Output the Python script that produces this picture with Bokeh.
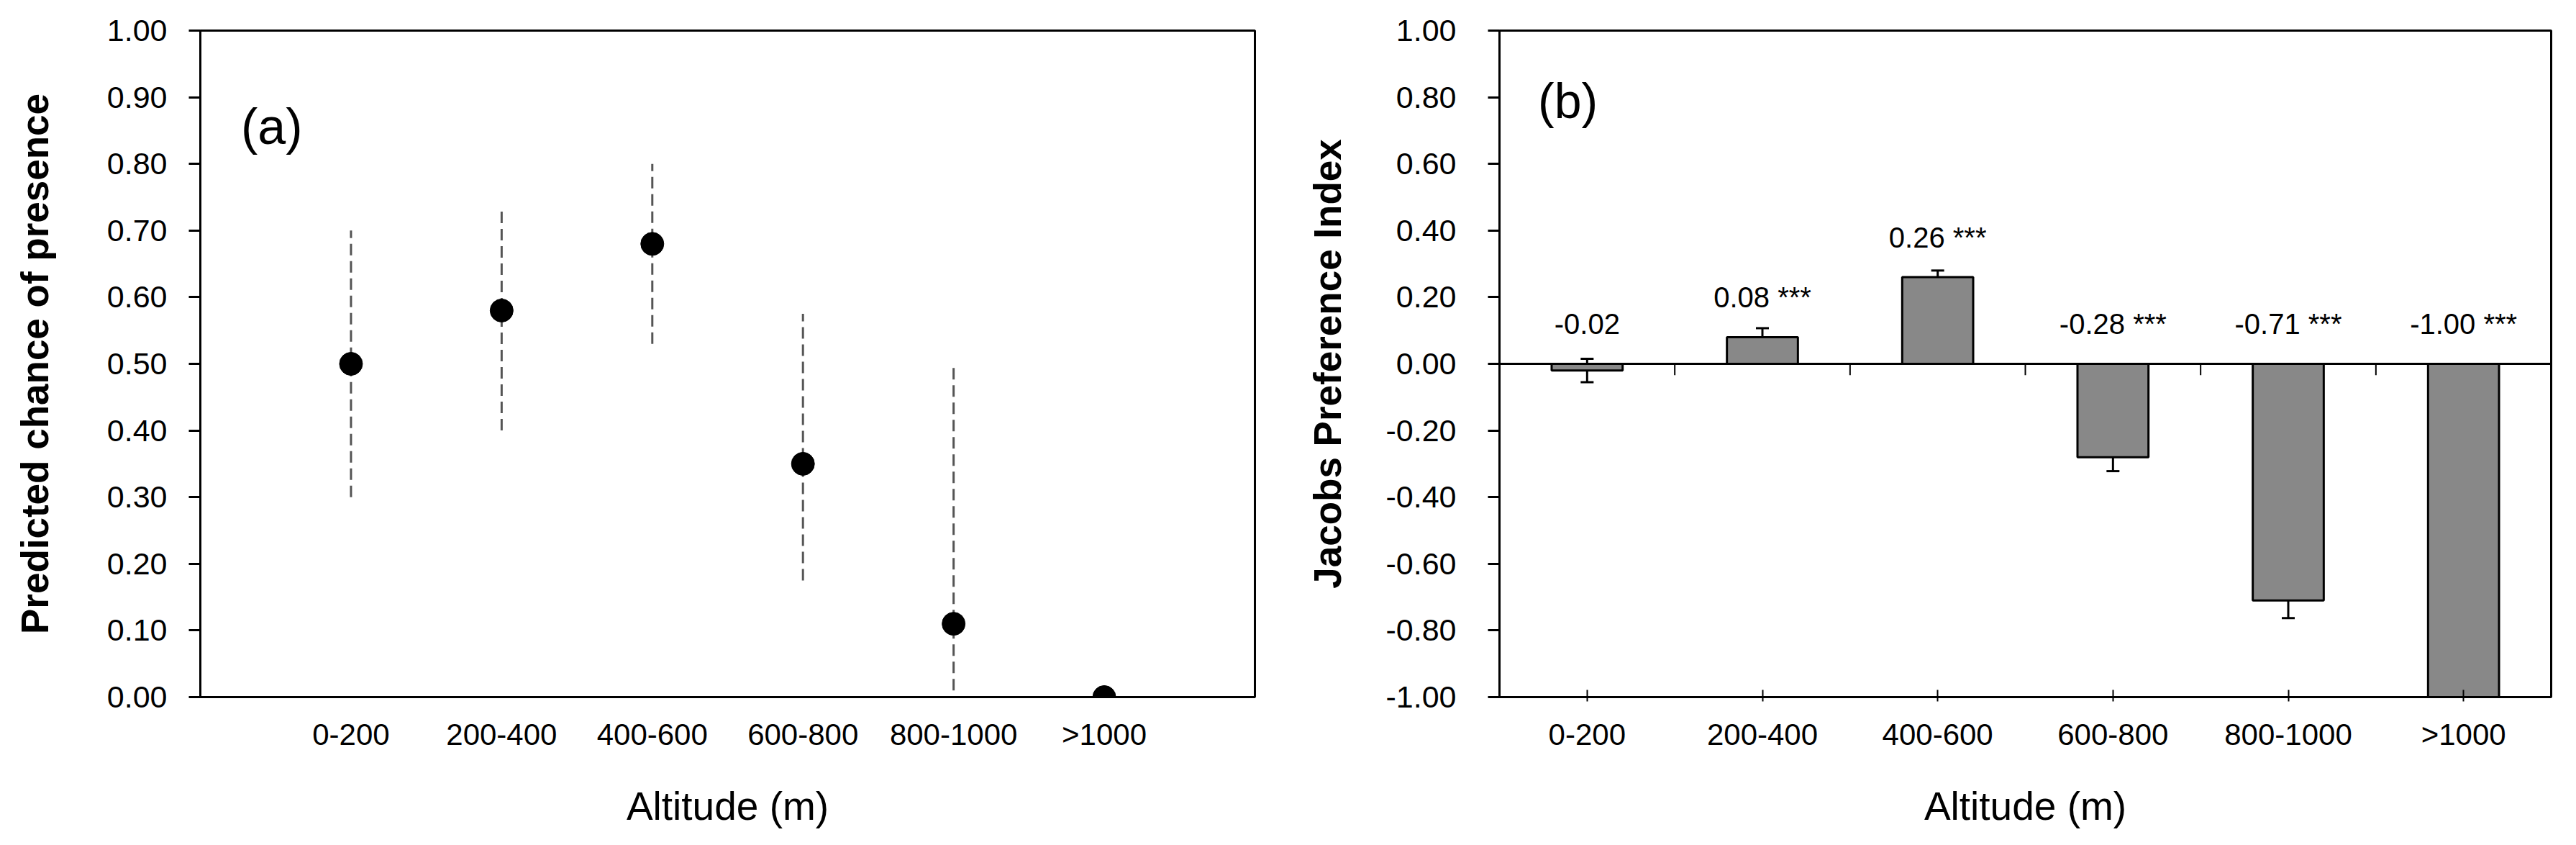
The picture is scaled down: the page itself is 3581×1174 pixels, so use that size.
from bokeh.plotting import figure
from bokeh.layouts import row
from bokeh.models import (FixedTicker, PrintfTickFormatter, ColumnDataSource, Whisker,
                          TeeHead, Span, Label)
from bokeh.core.properties import value
from bokeh.embed import file_html
from bokeh.resources import INLINE

# ---------------- data ----------------
categories = ["0-200", "200-400", "400-600", "600-800", "800-1000", ">1000"]

# panel (a): predicted chance of presence with dashed confidence range
presence = [0.50, 0.58, 0.68, 0.35, 0.11, 0.00]
presence_low = [0.30, 0.40, 0.53, 0.175, 0.01, 0.00]
presence_high = [0.70, 0.735, 0.80, 0.575, 0.50, 0.00]
presence_ticks = [0.0, 0.1, 0.2, 0.3, 0.4, 0.5, 0.6, 0.7, 0.8, 0.9, 1.0]

# panel (b): Jacobs preference index with error bars
jacobs = [-0.02, 0.08, 0.26, -0.28, -0.71, -1.00]
jacobs_err = [0.035, 0.027, 0.02, 0.042, 0.053, 0.0]
jacobs_sig = ["", "***", "***", "***", "***", "***"]
jacobs_ticks = [-1.0, -0.8, -0.6, -0.4, -0.2, 0.0, 0.2, 0.4, 0.6, 0.8, 1.0]

FONT = "Liberation Sans"


def style_axes(p):
    for ax in (p.xaxis[0], p.yaxis[0]):
        ax.axis_line_color = "black"
        ax.axis_line_width = 3
        ax.major_tick_line_color = "black"
        ax.major_tick_line_width = 3
        ax.minor_tick_line_color = None
        ax.major_label_text_font = FONT
        ax.major_label_text_color = "black"
        ax.axis_label_text_font = FONT
        ax.axis_label_text_color = "black"
        ax.axis_label_text_font_style = "normal"
    p.xgrid.grid_line_color = None
    p.ygrid.grid_line_color = None
    p.outline_line_color = "black"
    p.outline_line_width = 3
    p.outline_line_alpha = 1.0
    p.background_fill_color = "white"
    p.border_fill_color = "white"


# ---------------- panel (a) ----------------
n = len(categories)
xa = [i + 1 for i in range(n)]

p1 = figure(width=1782, height=1158, x_range=(0, n + 1), y_range=(0, 1),
            output_backend="svg", toolbar_location=None,
            min_border_left=278, min_border_right=38,
            min_border_top=42, min_border_bottom=190)
style_axes(p1)

p1.yaxis.ticker = FixedTicker(ticks=presence_ticks)
p1.yaxis.formatter = PrintfTickFormatter(format="%.2f")
p1.yaxis.major_tick_in = 0
p1.yaxis.major_tick_out = 16
p1.yaxis.major_label_standoff = 30
p1.yaxis.major_label_text_font_size = "43px"
p1.yaxis.axis_label = "Predicted chance of presence"
p1.yaxis.axis_label_text_font_size = "53px"
p1.yaxis.axis_label_text_font_style = "bold"
p1.yaxis.axis_label_standoff = 68

p1.xaxis.ticker = FixedTicker(ticks=xa)
p1.xaxis.major_label_overrides = {x: c for x, c in zip(xa, categories)}
p1.xaxis.major_tick_in = 0
p1.xaxis.major_tick_out = 0
p1.xaxis.major_label_standoff = 28
p1.xaxis.major_label_text_font_size = "42px"
p1.xaxis.axis_label = "Altitude (m)"
p1.xaxis.axis_label_text_font_size = "55px"
p1.xaxis.axis_label_standoff = 42

src_a = ColumnDataSource(dict(x=xa, y=presence, lo=presence_low, hi=presence_high))
p1.segment(x0="x", y0="lo", x1="x", y1="hi", source=src_a,
           line_color="#555555", line_width=3, line_dash="16 8")
p1.scatter(x="x", y="y", source=src_a, size=32, marker="circle",
           fill_color="black", line_color="black")

p1.add_layout(Label(x=0.27, y=0.856, text="(a)", text_font=FONT,
                    text_font_size="70px", text_color="black",
                    text_baseline="middle", text_align="left"))

# ---------------- panel (b) ----------------
xb = [i + 0.5 for i in range(n)]
bar_width = 0.405

p2 = figure(width=1783, height=1158, x_range=(0, n), y_range=(-1, 1),
            output_backend="svg", toolbar_location=None,
            min_border_left=302, min_border_right=19,
            min_border_top=38, min_border_bottom=185)
style_axes(p2)

p2.yaxis.ticker = FixedTicker(ticks=jacobs_ticks)
p2.yaxis.formatter = PrintfTickFormatter(format="%.2f")
p2.yaxis.major_tick_in = 0
p2.yaxis.major_tick_out = 16
p2.yaxis.major_label_standoff = 44
p2.yaxis.major_label_text_font_size = "43px"
p2.yaxis.axis_label = "Jacobs Preference Index"
p2.yaxis.axis_label_text_font_size = "53px"
p2.yaxis.axis_label_text_font_style = "bold"
p2.yaxis.axis_label_standoff = 48

p2.xaxis.ticker = FixedTicker(ticks=xb)
p2.xaxis.major_label_overrides = {x: c for x, c in zip(xb, categories)}
p2.xaxis.major_tick_in = 10
p2.xaxis.major_tick_out = 6
p2.xaxis.major_tick_line_width = 2
p2.xaxis.major_label_standoff = 22
p2.xaxis.major_label_text_font_size = "42px"
p2.xaxis.axis_label = "Altitude (m)"
p2.xaxis.axis_label_text_font_size = "55px"
p2.xaxis.axis_label_standoff = 42

src_b = ColumnDataSource(dict(
    x=xb, top=jacobs,
    label=[f"{v:.2f}" + (f" {s}" if s else "") for v, s in zip(jacobs, jacobs_sig)],
    label_y=[max(v, 0) + 0.12 for v in jacobs],
))

p2.vbar(x="x", top="top", bottom=0, width=bar_width, source=src_b,
        fill_color="#888888", line_color="black", line_width=3)

err_src = ColumnDataSource(dict(
    x=[x for x, e in zip(xb, jacobs_err) if e > 0],
    lower=[v - e for v, e in zip(jacobs, jacobs_err) if e > 0],
    upper=[v + e for v, e in zip(jacobs, jacobs_err) if e > 0],
))
p2.add_layout(Whisker(base="x", lower="lower", upper="upper", source=err_src,
                      dimension="height", line_color="black", line_width=3,
                      upper_head=TeeHead(size=18, line_width=3, line_color="black"),
                      lower_head=TeeHead(size=18, line_width=3, line_color="black")))

# zero line with category-boundary ticks
p2.add_layout(Span(location=0, dimension="width", line_color="black", line_width=3))
bounds = [i + 1 for i in range(n - 1)]
p2.segment(x0=bounds, y0=[0] * len(bounds), x1=bounds, y1=[-0.034] * len(bounds),
           line_color="black", line_width=2)

p2.text(x="x", y="label_y", text="label", source=src_b,
        text_font=value(FONT), text_font_size="40px", text_color="black",
        text_align="center", text_baseline="middle")

p2.add_layout(Label(x=0.22, y=0.79, text="(b)", text_font=FONT,
                    text_font_size="68px", text_color="black",
                    text_baseline="middle", text_align="left"))

layout = row(p1, p2)
open("out.html", "w").write(file_html(layout, INLINE))
